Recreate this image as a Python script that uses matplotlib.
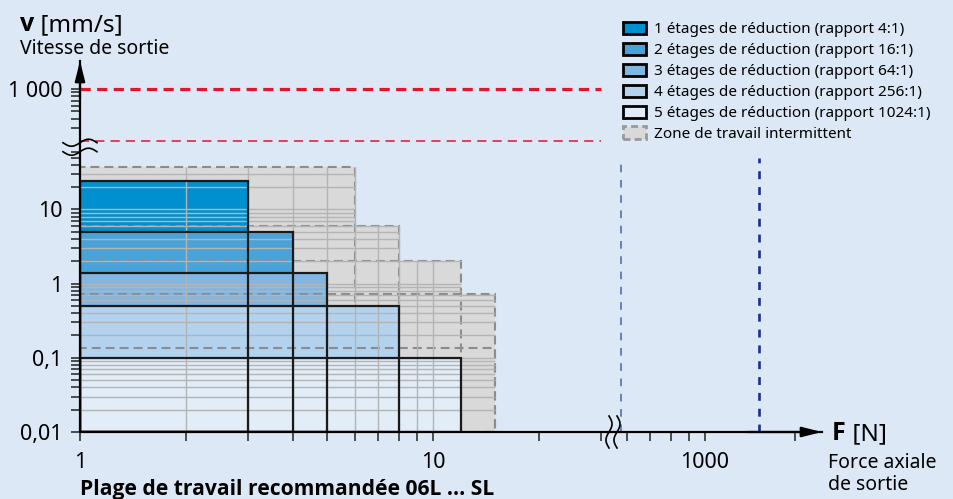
import numpy as np
import matplotlib.pyplot as plt
from matplotlib.patches import Patch, Rectangle
from matplotlib.transforms import IdentityTransform

plt.rcParams['font.family'] = ['Noto Sans', 'DejaVu Sans']
BOLD = ['Open Sans', 'DejaVu Sans']

# reduction stages: max force (N) and max speed (mm/s) of each stage
stage_labels = ['1 étages de réduction (rapport 4:1)',
                '2 étages de réduction (rapport 16:1)',
                '3 étages de réduction (rapport 64:1)',
                '4 étages de réduction (rapport 256:1)',
                '5 étages de réduction (rapport 1024:1)']
stage_force = [3, 4, 5, 8, 12]
stage_speed = [24, 5, 1.4, 0.5, 0.1]
stage_colors = ['#0090cf', '#49a3d9', '#80b6e1', '#b2d2ee', '#e2edf8']

# intermittent working zones (dashed grey)
zone_label = 'Zone de travail intermittent'
zone_force = [6, 8, 12, 15, 15]
zone_speed = [37, 6, 2, 0.73, 0.135]

# limit lines
speed_limits = [1000, 200]      # red, drawn up to the force break
force_limits = [580, 1420]      # blue, drawn up to the speed break

yticks = [0.01, 0.1, 1, 10, 1000]
ytick_labels = ['0,01', '0,1', '1', '10', '1 000']
xticks = [1, 10, 1000]
xtick_labels = ['1', '10', '1000']
yminor = [k * 10.0 ** e for e in (-2, -1, 0) for k in range(2, 10)] + \
    [20, 30, 40, 50, 60, 300, 400, 500, 600, 700, 800, 900]
xminor = list(range(2, 10)) + [20, 30, 600, 700, 800, 900, 1800]
ygrid = [k * 10.0 ** e for e in (-2, -1, 0) for k in range(2, 11)] + [20, 30]
xgrid = list(range(2, 11))

bg = '#dce8f5'
grey = '#d9d9d9'
dash_grey = '#8c8c8c'


def broken_log(lo, hi, gap):
    # log scale with the decades between lo and hi squeezed together
    llo, lhi = np.log10(lo), np.log10(hi)
    ulo, uhi = llo, lhi - gap

    def fwd(v):
        l = np.log10(np.maximum(v, 1e-12))
        mid = ulo + (l - llo) * (uhi - ulo) / (lhi - llo)
        return np.where(l <= llo, l, np.where(l >= lhi, l - gap, mid))

    def inv(u):
        mid = llo + (u - ulo) * (lhi - llo) / (uhi - ulo)
        return 10 ** np.where(u <= ulo, u, np.where(u >= uhi, u + gap, mid))
    return fwd, inv


W, H = 954, 499
fig = plt.figure(figsize=(W / 100, H / 100), dpi=100, facecolor=bg)
ax = fig.add_axes([80 / W, 1 - 432 / H, 742 / W, 371 / H])
ax.set_facecolor('none')

fx, ix = broken_log(30, 550, 1.2295)
fy, iy = broken_log(60, 200, 0.3784)
ax.set_xscale('function', functions=(fx, ix))
ax.set_yscale('function', functions=(fy, iy))
ax.set_xlim(1, float(ix(2.102)))
ax.set_ylim(0.01, float(iy(3.0)))

# grey zones underneath
for zf, zs in zip(zone_force, zone_speed):
    ax.add_patch(Rectangle((1, 0.01), zf - 1, zs - 0.01, facecolor=grey,
                           edgecolor='none', zorder=1))

# dashed zone outline then stage fill, one after the other
for k in range(5):
    ax.add_patch(Rectangle((1, 0.01), zone_force[k] - 1, zone_speed[k] - 0.01,
                           facecolor='none', edgecolor=dash_grey, lw=1.5,
                           ls=(0, (4.3, 2.4)), zorder=2 + 2 * k))
    ax.bar(1, stage_speed[k] - 0.01, width=stage_force[k] - 1, bottom=0.01,
           align='edge', color=stage_colors[k], edgecolor='none',
           zorder=3 + 2 * k)

# grid lines inside the working zones
for h in ygrid:
    right = max(zf for zf, zs in zip(zone_force, zone_speed) if zs >= h)
    ax.hlines(h, 1, right, color='#b4b4b4', lw=1.0, zorder=12)
for g in xgrid:
    top = max(zs for zf, zs in zip(zone_force, zone_speed) if zf >= g)
    ax.vlines(g, 0.01, top, color='#b4b4b4', lw=1.0, zorder=12)

# stage outlines on top
for k in range(5):
    ax.add_patch(Rectangle((1, 0.01), stage_force[k] - 1,
                           stage_speed[k] - 0.01, facecolor='none',
                           edgecolor='#1a1a1a', lw=1.6, zorder=13))

# limit lines
ax.hlines(speed_limits[0], 1, 30, color='#e3142d', lw=2.3,
          ls=(0, (3.2, 2.0)), zorder=14)
ax.hlines(speed_limits[1], 1, 30, color='#e3142d', lw=1.1,
          ls=(0, (6.0, 4.0)), zorder=14)
ax.vlines(force_limits[0], 0.01, 50, color='#4a63ad', lw=1.1,
          ls=(0, (5.0, 5.0)), zorder=14)
ax.vlines(force_limits[1], 0.01, 50, color='#1c2f8a', lw=1.9,
          ls=(0, (3.0, 3.0)), zorder=14)

# axes
for s in ['top', 'right']:
    ax.spines[s].set_visible(False)
for s in ['left', 'bottom']:
    ax.spines[s].set_linewidth(1.6)
    ax.spines[s].set_color('black')
    ax.spines[s].set_zorder(15)

ax.set_xticks(xticks, xtick_labels)
ax.set_xticks(xminor, minor=True)
ax.set_yticks(yticks, ytick_labels)
ax.set_yticks(yminor, minor=True)
ax.tick_params(which='both', direction='out', length=6.5, width=1.1,
               color='#222222', labelsize=15.5)
ax.tick_params(axis='x', pad=8)
ax.tick_params(axis='y', pad=6)

arrow = dict(arrowstyle='-|>,head_length=1.2,head_width=0.3', color='black',
             lw=1.6, mutation_scale=10, shrinkA=0, shrinkB=0)
ax.annotate('', xy=(0, 1), xytext=(0, 0.9), xycoords='axes fraction',
            arrowprops=arrow)
ax.annotate('', xy=(1, 0), xytext=(0.9, 0), xycoords='axes fraction',
            arrowprops=arrow)

# axis break marks
fig.canvas.draw()
t = np.linspace(-1, 1, 60)
x0, y0 = ax.transAxes.transform((0, 1 - (3.0 - 1.838) / 5.0))
for off in (4.5, -4.5):
    ax.plot(x0 + 17 * t, y0 + off + 3.5 * np.sin(np.pi * t), color='black',
            lw=1.2, transform=IdentityTransform(), clip_on=False, zorder=16)
x1, y1 = ax.transAxes.transform(((613 - 80) / 742, 0))
for off in (-4, 4):
    ax.plot(x1 + off + 3 * np.sin(np.pi * t), y1 + 16 * t, color='black',
            lw=1.2, transform=IdentityTransform(), clip_on=False, zorder=16)

# axis titles
tv = fig.text(20 / W, 1 - 31 / H, 'v', fontsize=18, fontweight='bold',
              family=BOLD, va='baseline')
ax.annotate(' [mm/s]', xy=(1, 0), xycoords=tv, fontsize=17.5,
            va='bottom', ha='left')
fig.text(20 / W, 1 - 54 / H, 'Vitesse de sortie', fontsize=14, va='baseline')

tf = fig.text(832 / W, 1 - 440 / H, 'F', fontsize=18, fontweight='bold',
              family=BOLD, va='baseline')
ax.annotate(' [N]', xy=(1, 0), xycoords=tf, fontsize=17.5, va='bottom',
            ha='left')
fig.text(828 / W, 1 - 468 / H, 'Force axiale', fontsize=14, va='baseline')
fig.text(828 / W, 1 - 490 / H, 'de sortie', fontsize=14, va='baseline')
fig.text(80 / W, 1 - 495 / H, 'Plage de travail recommandée 06L ... SL',
         fontsize=15.1, fontweight='bold', family=BOLD, va='baseline')

# legend
handles = [Patch(facecolor=c, edgecolor='black', lw=2, label=l)
           for c, l in zip(stage_colors, stage_labels)]
handles.append(Patch(facecolor=grey, edgecolor='#999999', lw=2,
                     ls=(0, (2.5, 1.5)), label=zone_label))
fig.legend(handles=handles, loc='upper left',
           bbox_to_anchor=(623 / W, 1 - 22 / H), frameon=False, fontsize=11,
           handlelength=1.5, handleheight=0.85, handletextpad=0.55,
           labelspacing=0.36, borderpad=0, borderaxespad=0)

fig.savefig('out.png', dpi=100, facecolor=bg)
